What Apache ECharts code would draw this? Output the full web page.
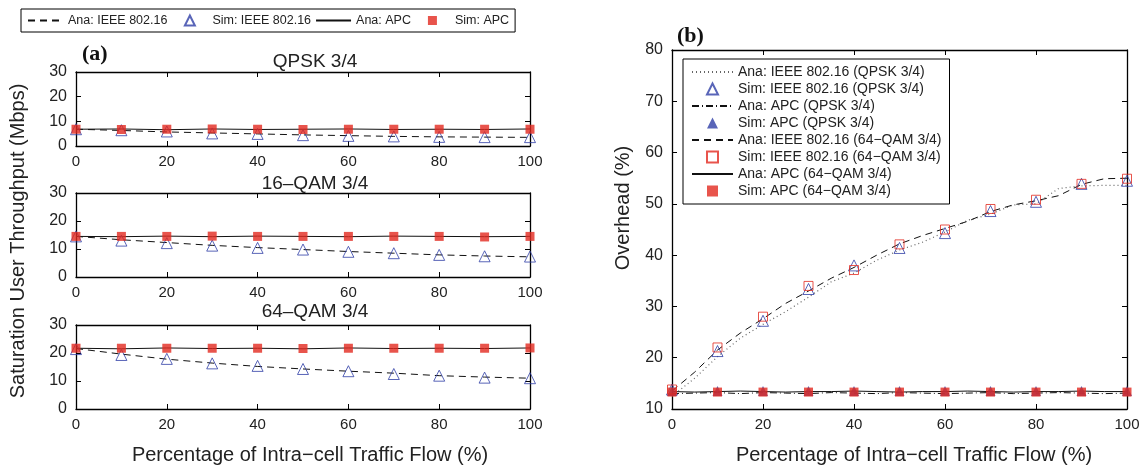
<!DOCTYPE html>
<html>
<head>
<meta charset="utf-8">
<script src="https://cdn.jsdelivr.net/npm/echarts@6/dist/echarts.min.js"></script>
<style>
  html, body { margin: 0; padding: 0; background: #fff; }
  #chart { width: 1145px; height: 467px; }
</style>
</head>
<body>
<div id="chart"></div>
<script>
// x positions (%)
var xs = [0, 10, 20, 30, 40, 50, 60, 70, 80, 90, 100];
var xsFine = [0, 5, 10, 15, 20, 25, 30, 35, 40, 45, 50, 55, 60, 65, 70, 75, 80, 85, 90, 95, 100];

// (a) saturation user throughput, Mbps
var qpskSimIeee = [6.8, 6.4, 5.9, 5.1, 4.9, 4.4, 4.1, 3.9, 3.7, 3.6, 3.6];
var qpskAnaIeee = [6.8, 6.3, 5.7, 5.3, 4.9, 4.5, 4.2, 3.9, 3.7, 3.6, 3.5];
var qpskSimApc = [6.8, 6.7, 6.8, 6.9, 6.8, 6.7, 6.8, 6.8, 6.8, 6.8, 6.8];
var qpskAnaApc = [6.8, 6.9, 6.6, 6.9, 6.7, 6.8, 6.9, 6.7, 6.8, 6.7, 6.9];

var qam16SimIeee = [14.5, 13.0, 12.1, 11.2, 10.4, 9.8, 9.0, 8.5, 7.9, 7.4, 7.3];
var qam16AnaIeee = [14.5, 13.3, 12.3, 11.3, 10.5, 9.8, 9.1, 8.5, 7.9, 7.5, 7.2];
var qam16SimApc = [14.5, 14.5, 14.5, 14.6, 14.5, 14.5, 14.5, 14.5, 14.5, 14.3, 14.5];
var qam16AnaApc = [14.5, 14.4, 14.6, 14.4, 14.6, 14.5, 14.4, 14.6, 14.5, 14.4, 14.5];

var qam64SimIeee = [21.4, 19.3, 17.9, 16.3, 15.4, 14.3, 13.5, 12.5, 11.9, 11.2, 11.0];
var qam64AnaIeee = [21.6, 19.6, 17.8, 16.4, 15.2, 14.3, 13.5, 12.8, 11.9, 11.4, 11.0];
var qam64SimApc = [21.7, 21.7, 21.7, 21.7, 21.7, 21.6, 21.7, 21.7, 21.7, 21.7, 21.8];
var qam64AnaApc = [21.7, 21.5, 21.8, 21.6, 21.7, 21.5, 21.8, 21.6, 21.7, 21.6, 21.8];

// (b) overhead, %
var ovAnaIeeeQpsk = [12.5, 16.0, 20.2, 23.8, 26.5, 29.0, 31.8, 34.8, 36.5, 39.0, 41.0, 42.5, 44.5, 46.8, 48.0, 49.8, 50.0, 53.0, 53.5, 53.6, 53.6];
var ovAnaIeee64 = [13.5, 17.2, 21.5, 24.8, 27.6, 30.6, 33.0, 35.5, 37.6, 40.0, 42.2, 43.8, 45.2, 46.6, 48.5, 49.8, 50.6, 51.6, 53.8, 54.9, 55.0];
var ovAnaApcQpsk = [13.0, 13.1, 13.2, 13.0, 13.2, 13.1, 13.0, 13.2, 13.1, 13.0, 13.2, 13.1, 13.0, 13.1, 13.2, 13.0, 13.1, 13.2, 13.1, 13.0, 13.1];
var ovAnaApc64 = [13.4, 13.3, 13.4, 13.5, 13.4, 13.3, 13.4, 13.4, 13.5, 13.4, 13.3, 13.4, 13.4, 13.5, 13.4, 13.3, 13.4, 13.4, 13.5, 13.4, 13.4];
var ovSimIeeeQpsk = [13.8, 21.3, 27.2, 33.4, 38.0, 41.4, 44.3, 48.6, 50.4, 53.9, 54.5];
var ovSimIeee64 = [13.8, 22.0, 28.0, 34.0, 37.1, 42.1, 45.0, 49.0, 50.8, 53.9, 54.9];
var ovSimApcQpsk = [13.5, 13.5, 13.5, 13.5, 13.5, 13.5, 13.5, 13.5, 13.5, 13.5, 13.5];
var ovSimApc64 = [13.3, 13.3, 13.3, 13.3, 13.3, 13.3, 13.3, 13.3, 13.3, 13.3, 13.3];

var panelTitles = ['QPSK 3/4', '16\u2013QAM 3/4', '64\u2013QAM 3/4'];
var xName = 'Percentage of Intra\u2212cell Traffic Flow (%)';

var BLUE = '#2f3fa6';
var RED = '#e2291f';
var FONT = 'Liberation Sans, Arial, sans-serif';
var NO_MARK = { color: 'rgba(0,0,0,0)', borderWidth: 0 };
// path icons keep their aspect in the legend (built-in ones stretch);
// the leading moveTo's make the path span the whole icon box so the row layout stays right
var TRI_ICON_A = 'path://M0,0M35,10M17.5,0L22.5,10L12.5,10Z';
var SQ_ICON_A = 'path://M0,0M35,10M13,0.5L22,0.5L22,9.5L13,9.5Z';
var TRI_ICON = 'path://M5,0L10,10L0,10Z';
var SQ_ICON = 'path://M0,0L10,0L10,10L0,10Z';

function pairs(x, y) {
  return x.map(function (v, i) { return [v, y[i]]; });
}

var grids = [
  { left: 76, top: 72, width: 454, height: 74 },
  { left: 76, top: 193, width: 454, height: 84 },
  { left: 76, top: 325, width: 454, height: 84 },
  { left: 672, top: 50, width: 455, height: 359 }
];
var yRanges = [[0, 30], [0, 30], [0, 30], [10, 80]];

var xAxes = [];
var yAxes = [];
grids.forEach(function (g, i) {
  var line = { show: true, onZero: false, lineStyle: { color: '#000', width: 1.3 } };
  var tick = { show: true, inside: true, length: 5, lineStyle: { color: '#000' } };
  xAxes.push({
    type: 'value', gridIndex: i, position: 'bottom', min: 0, max: 100, interval: 20,
    axisLine: line, axisTick: tick, splitLine: { show: false },
    axisLabel: { margin: 8, color: '#222', fontSize: 15, fontFamily: FONT }
  });
  xAxes.push({
    type: 'value', gridIndex: i, position: 'top', min: 0, max: 100, interval: 20,
    axisLine: line, axisTick: tick, splitLine: { show: false }, axisLabel: { show: false }
  });
  yAxes.push({
    type: 'value', gridIndex: i, position: 'left', min: yRanges[i][0], max: yRanges[i][1], interval: 10,
    axisLine: line, axisTick: tick, splitLine: { show: false },
    axisLabel: { margin: 9, color: '#222', fontSize: 16, fontFamily: FONT }
  });
  yAxes.push({
    type: 'value', gridIndex: i, position: 'right', min: yRanges[i][0], max: yRanges[i][1], interval: 10,
    axisLine: line, axisTick: tick, splitLine: { show: false }, axisLabel: { show: false }
  });
});

var series = [];
function addLeft(g, anaIeee, simIeee, anaApc, simApc) {
  var ax = { xAxisIndex: g * 2, yAxisIndex: g * 2 };
  series.push(Object.assign({
    name: 'Ana: IEEE 802.16', type: 'line', symbol: 'none', z: 2,
    lineStyle: { color: '#111', width: 1, type: [7, 5] },
    data: pairs(xs, anaIeee)
  }, ax));
  series.push(Object.assign({
    name: 'Ana: APC', type: 'line', symbol: 'none', z: 2,
    lineStyle: { color: '#111', width: 1 },
    data: pairs(xs, anaApc)
  }, ax));
  series.push(Object.assign({
    name: 'Sim: IEEE 802.16', type: 'scatter', symbol: 'triangle', symbolSize: 11, z: 3,
    itemStyle: { color: 'rgba(0,0,0,0)', borderColor: BLUE, borderWidth: 1 },
    data: pairs(xs, simIeee)
  }, ax));
  series.push(Object.assign({
    name: 'Sim: APC', type: 'scatter', symbol: 'rect', symbolSize: 9, z: 4,
    itemStyle: { color: RED },
    data: pairs(xs, simApc)
  }, ax));
}
addLeft(0, qpskAnaIeee, qpskSimIeee, qpskAnaApc, qpskSimApc);
addLeft(1, qam16AnaIeee, qam16SimIeee, qam16AnaApc, qam16SimApc);
addLeft(2, qam64AnaIeee, qam64SimIeee, qam64AnaApc, qam64SimApc);

var rightAx = { xAxisIndex: 6, yAxisIndex: 6 };
series.push(Object.assign({
  name: 'Ana: IEEE 802.16 (QPSK 3/4)', type: 'line', symbol: 'none', z: 2,
  lineStyle: { color: '#666', width: 1.2, type: [1, 3] },
  data: pairs(xsFine, ovAnaIeeeQpsk)
}, rightAx));
series.push(Object.assign({
  name: 'Sim: IEEE 802.16 (QPSK 3/4)', type: 'scatter', symbol: 'triangle', symbolSize: 11, z: 3,
  itemStyle: { color: 'rgba(0,0,0,0)', borderColor: BLUE, borderWidth: 1 },
  data: pairs(xs, ovSimIeeeQpsk)
}, rightAx));
series.push(Object.assign({
  name: 'Ana: APC (QPSK 3/4)', type: 'line', symbol: 'none', z: 2,
  lineStyle: { color: '#111', width: 1, type: [7, 3, 1, 3] },
  data: pairs(xsFine, ovAnaApcQpsk)
}, rightAx));
series.push(Object.assign({
  name: 'Sim: APC (QPSK 3/4)', type: 'scatter', symbol: 'triangle', symbolSize: 10, z: 3,
  itemStyle: { color: BLUE },
  data: pairs(xs, ovSimApcQpsk)
}, rightAx));
series.push(Object.assign({
  name: 'Ana: IEEE 802.16 (64\u2212QAM 3/4)', type: 'line', symbol: 'none', z: 2,
  lineStyle: { color: '#111', width: 1, type: [7, 5] },
  data: pairs(xsFine, ovAnaIeee64)
}, rightAx));
series.push(Object.assign({
  name: 'Sim: IEEE 802.16 (64\u2212QAM 3/4)', type: 'scatter', symbol: 'rect', symbolSize: 9, z: 4,
  itemStyle: { color: 'rgba(0,0,0,0)', borderColor: RED, borderWidth: 1 },
  data: pairs(xs, ovSimIeee64)
}, rightAx));
series.push(Object.assign({
  name: 'Ana: APC (64\u2212QAM 3/4)', type: 'line', symbol: 'none', z: 2,
  lineStyle: { color: '#111', width: 1 },
  data: pairs(xsFine, ovAnaApc64)
}, rightAx));
series.push(Object.assign({
  name: 'Sim: APC (64\u2212QAM 3/4)', type: 'scatter', symbol: 'rect', symbolSize: 9, z: 4,
  itemStyle: { color: RED },
  data: pairs(xs, ovSimApc64)
}, rightAx));

var titles = [
  { text: '(a)', left: 77, top: 38, textStyle: { fontFamily: 'Liberation Serif, Times New Roman, serif', fontWeight: 'bold', fontSize: 22, color: '#111' } },
  { text: '(b)', left: 672, top: 20, textStyle: { fontFamily: 'Liberation Serif, Times New Roman, serif', fontWeight: 'bold', fontSize: 22, color: '#111' } }
];
var titleTops = [47, 169, 297];
panelTitles.forEach(function (t, i) {
  titles.push({
    text: t, left: 310, top: titleTops[i], textAlign: 'center',
    textStyle: { fontFamily: FONT, fontWeight: 'normal', fontSize: 19, color: '#222' }
  });
});

// legend entries: analytic lines show only the line, sims only the marker
function lineItem(name) {
  return { name: name, itemStyle: NO_MARK };
}
function markItem(name, icon) {
  return { name: name, icon: icon };
}

var option = {
  backgroundColor: '#fff',
  animation: false,
  title: titles,
  grid: grids,
  xAxis: xAxes,
  yAxis: yAxes,
  legend: [{
    left: 21, top: 9,
    padding: [5, 6, 5, 6],
    borderColor: '#000', borderWidth: 1,
    itemWidth: 35, itemHeight: 10, itemGap: 4,
    textStyle: { fontFamily: FONT, fontSize: 12.5, color: '#222' },
    data: [lineItem('Ana: IEEE 802.16'), markItem('Sim: IEEE 802.16', TRI_ICON_A),
      lineItem('Ana: APC'), markItem('Sim: APC', SQ_ICON_A)]
  }, {
    orient: 'vertical', left: 683, top: 59,
    padding: [6, 8, 6, 8],
    borderColor: '#000', borderWidth: 1, backgroundColor: '#fff',
    itemWidth: 41, itemHeight: 11, itemGap: 3,
    textStyle: { fontFamily: FONT, fontSize: 14, color: '#222' },
    data: [lineItem('Ana: IEEE 802.16 (QPSK 3/4)'), markItem('Sim: IEEE 802.16 (QPSK 3/4)', TRI_ICON),
      lineItem('Ana: APC (QPSK 3/4)'), markItem('Sim: APC (QPSK 3/4)', TRI_ICON),
      lineItem('Ana: IEEE 802.16 (64\u2212QAM 3/4)'), markItem('Sim: IEEE 802.16 (64\u2212QAM 3/4)', SQ_ICON),
      lineItem('Ana: APC (64\u2212QAM 3/4)'), markItem('Sim: APC (64\u2212QAM 3/4)', SQ_ICON)]
  }],
  graphic: [
    { type: 'text', x: 18, y: 241, rotation: Math.PI / 2,
      style: { text: 'Saturation User Throughput (Mbps)', align: 'center', verticalAlign: 'middle', font: '20px ' + FONT, fill: '#222' } },
    { type: 'text', x: 310, y: 455,
      style: { text: xName, align: 'center', verticalAlign: 'middle', font: '20px ' + FONT, fill: '#222' } },
    { type: 'text', x: 623, y: 208, rotation: Math.PI / 2,
      style: { text: 'Overhead (%)', align: 'center', verticalAlign: 'middle', font: '20px ' + FONT, fill: '#222' } },
    { type: 'text', x: 914, y: 455,
      style: { text: xName, align: 'center', verticalAlign: 'middle', font: '20px ' + FONT, fill: '#222' } }
  ],
  series: series
};

var chart = echarts.init(document.getElementById('chart'), null, { renderer: 'canvas' });
chart.setOption(option);
</script>
</body>
</html>
